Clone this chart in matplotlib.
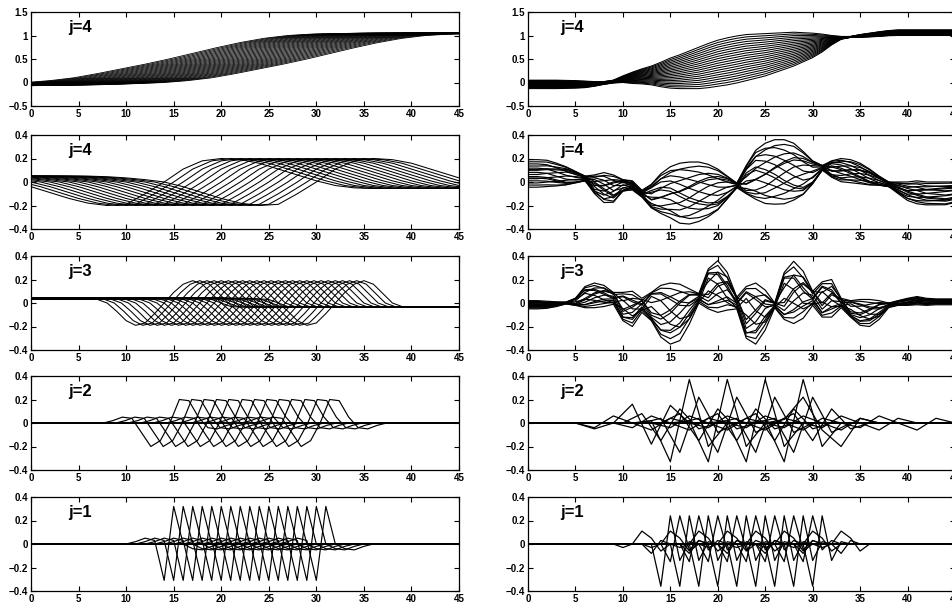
import numpy as np
import matplotlib
matplotlib.use("Agg")
import matplotlib.pyplot as plt

plt.rcParams['font.family'] = ['Liberation Sans', 'DejaVu Sans']

# ---- left column: shifted copies of one shape ----
# top: smooth steps (j=4), offsets relative to the half-way point
L1_OFF = np.arange(-35, 35.1, 2.5)
L1_STEP = [-0.07, -0.07, -0.07, -0.065, -0.06, -0.05, -0.04, -0.02, 0.0, 0.04,
           0.10, 0.19, 0.29, 0.39, 0.50, 0.62, 0.74, 0.85, 0.94, 1.00,
           1.03, 1.04, 1.05, 1.05, 1.05, 1.05, 1.05, 1.05, 1.05]
L1_CENTERS = [14.5, 15.0, 15.5, 16.0, 16.5, 17.0, 17.5, 18.0, 18.5, 19.0,
              19.5, 20.0, 20.5, 21.0, 21.5, 22.0, 22.5, 23.0, 23.5, 24.0,
              24.5, 25.0, 25.5, 26.0, 26.5, 27.0, 27.5, 28.0, 28.5, 29.0]

# j=4 wavelets, offsets relative to the zero crossing
L2_OFF = np.arange(-36, 37, 2)
L2_WAVE = [0.05, 0.05, 0.05, 0.05, 0.05, 0.05, 0.05,
           0.045, 0.035, 0.02, 0.0, -0.04, -0.09, -0.14, -0.18, -0.20, -0.19, -0.10,
           0.0,
           0.11, 0.18, 0.20, 0.19, 0.16, 0.11, 0.06, 0.01, -0.03, -0.05,
           -0.055, -0.055, -0.055, -0.055, -0.055, -0.055, -0.055, -0.055]
L2_ZERO = [14, 15, 16, 17, 18, 19, 20, 21, 22, 23, 24, 25, 26, 27, 28, 29, 30]

# j=3
L3_OFF = np.arange(-20, 21)
L3_WAVE = [0.035, 0.035, 0.04, 0.04, 0.04, 0.045, 0.045, 0.045, 0.045, 0.04, 0.04, 0.04, 0.035,
           0.03, 0.0, -0.07, -0.15, -0.19, -0.17, -0.09, 0.0, 0.09, 0.16, 0.19, 0.16, 0.08, 0.0,
           -0.03, -0.035, -0.035, -0.035, -0.035, -0.035, -0.035, -0.035, -0.035, -0.035,
           -0.035, -0.035, -0.035, -0.035]
L3_ZERO = [14.0, 14.75, 15.5, 16.25, 17.0, 17.75, 18.5, 19.25, 20.0, 20.75, 21.5,
           22.25, 23.0, 23.75, 24.5, 25.25, 26.0, 26.75, 27.5, 28.25, 29.0, 29.75,
           30.5, 31.25, 32.0]

# j=2
L4_OFF = np.arange(-8, 9)
L4_WAVE = [0.0, 0.0, 0.02, 0.05, 0.04, -0.08, -0.20, -0.15, 0.0, 0.20, 0.19, 0.05,
           -0.04, -0.05, -0.02, 0.0, 0.0]
L4_ZERO = [14.6, 15.9, 17.2, 18.5, 19.8, 21.2, 22.5, 23.8, 25.1, 26.4, 27.8, 29.1, 30.4]

# j=1
L5_OFF = np.arange(-5, 7)
L5_WAVE = [0.0, 0.0, 0.02, 0.05, 0.03, -0.31, 0.32, 0.0, -0.04, -0.05, -0.02, 0.0]
L5_TROUGH = [14, 15, 16, 17, 18, 19, 20, 21, 22, 23, 24, 25, 26, 27, 28, 29, 30]

# ---- right column: sampled on x = 0..45 ----
XR = np.arange(46)

R1_MID = [-0.04, -0.04, -0.04, -0.04, -0.04, -0.04, -0.04, -0.03, -0.01, 0.02,
          0.07, 0.10, 0.13, 0.15, 0.17, 0.20, 0.23, 0.27, 0.31, 0.36,
          0.41, 0.45, 0.49, 0.53, 0.56, 0.59, 0.63, 0.67, 0.71, 0.75,
          0.79, 0.84, 0.90, 0.95, 0.97, 0.99, 1.01, 1.03, 1.05, 1.06,
          1.06, 1.06, 1.06, 1.06, 1.06, 1.06]
R1_LENS = [0.09, 0.09, 0.09, 0.09, 0.085, 0.08, 0.07, 0.05, 0.03, 0.03,
           0.07, 0.12, 0.16, 0.20, 0.26, 0.32, 0.36, 0.40, 0.44, 0.47,
           0.49, 0.50, 0.50, 0.49, 0.47, 0.45, 0.42, 0.39, 0.36, 0.31,
           0.26, 0.19, 0.10, 0.03, 0.01, 0.03, 0.04, 0.05, 0.055, 0.06,
           0.06, 0.06, 0.06, 0.06, 0.06, 0.06]
R1_C = [-1.0, -0.9, -0.8, -0.7, -0.6, -0.5, -0.4, -0.3, -0.2, -0.1, 0.0,
        0.1, 0.2, 0.3, 0.4, 0.5, 0.6, 0.7, 0.8, 0.9, 1.0]

R2_MID = [0.07, 0.07, 0.07, 0.06, 0.05, 0.04, 0.03, -0.02, -0.05, -0.06,
          -0.03, -0.03, -0.10, -0.12, -0.10, -0.09, -0.10, -0.10, -0.09, -0.08,
          -0.07, -0.05, -0.03, 0.02, 0.06, 0.07, 0.08, 0.08, 0.08, 0.07,
          0.08, 0.12, 0.11, 0.10, 0.09, 0.07, 0.04, 0.01, -0.02, -0.05,
          -0.08, -0.09, -0.10, -0.10, -0.10, -0.09]
R2_AMP = [0.12, 0.12, 0.115, 0.10, 0.08, 0.05, 0.02, 0.08, 0.13, 0.12,
          0.05, 0.04, 0.03, 0.10, 0.17, 0.22, 0.26, 0.27, 0.26, 0.23,
          0.18, 0.10, 0.02, 0.12, 0.21, 0.26, 0.28, 0.28, 0.25, 0.19,
          0.10, 0.02, 0.07, 0.10, 0.10, 0.09, 0.07, 0.04, 0.02, 0.05,
          0.08, 0.10, 0.10, 0.10, 0.10, 0.09]
R2_TILT = [0.0, 0.0, 0.1, 0.3, 0.6, 0.8, 1.0, -0.6, -0.2, 0.3,
           0.8, 0.0, 0.0, -0.9, -0.7, -0.5, -0.3, -0.1, 0.1, 0.3,
           0.5, 0.7, 0.9, -0.9, -0.7, -0.45, -0.2, 0.05, 0.3, 0.55,
           0.8, 1.0, -0.8, -0.5, -0.2, 0.1, 0.4, 0.7, 0.9, -0.5,
           -0.3, -0.1, 0.1, 0.2, 0.3, 0.3]
R2_A = [1.0, 0.85, 0.7, 0.55, 0.4, 0.25, 0.1, -0.05, -0.2, -0.35, -0.5, -0.65, -0.8, -0.95, 0.3, -0.3]
R2_B = [0.0, 0.15, -0.3, 0.4, -0.5, 0.6, -0.7, 0.8, -0.75, 0.6, -0.45, 0.35, -0.2, 0.05, 0.7, -0.7]

R3_MID = [-0.015, -0.015, -0.015, -0.01, 0.0, 0.01, 0.05, 0.065, 0.06, 0.04,
          -0.03, -0.05, -0.02, -0.03, -0.07, -0.09, -0.08, -0.03, 0.04, 0.12,
          0.14, 0.10, 0.0, -0.08, -0.09, -0.06, -0.02, 0.06, 0.09, 0.07,
          0.04, 0.03, 0.04, 0.0, -0.05, -0.08, -0.085, -0.06, -0.02, 0.0,
          0.01, 0.02, 0.01, 0.01, 0.01, 0.01]
R3_AMP = [0.035, 0.035, 0.03, 0.02, 0.008, 0.03, 0.09, 0.105, 0.09, 0.05,
          0.12, 0.15, 0.06, 0.12, 0.22, 0.26, 0.24, 0.15, 0.04, 0.17,
          0.22, 0.16, 0.05, 0.22, 0.26, 0.17, 0.02, 0.20, 0.265, 0.20,
          0.06, 0.15, 0.16, 0.04, 0.07, 0.11, 0.115, 0.08, 0.02, 0.02,
          0.03, 0.035, 0.03, 0.025, 0.025, 0.025]
R3_TILT = [0.0, 0.0, 0.0, 0.0, 0.0, -0.8, -0.4, 0.0, 0.4, 0.8,
           -0.5, 0.0, 0.6, -0.8, -0.45, -0.1, 0.25, 0.6, 0.9, -0.6,
           -0.1, 0.4, 0.9, -0.6, -0.1, 0.4, 0.9, -0.6, -0.1, 0.4,
           0.9, -0.5, 0.1, 0.7, -0.7, -0.3, 0.1, 0.5, 0.9, -0.5,
           -0.3, 0.0, 0.2, 0.3, 0.3, 0.3]
R3_A = [1.0, 0.8, 0.6, 0.4, 0.2, 0.0, -0.2, -0.4, -0.6, -0.8, -1.0, 0.5, -0.5, 0.1]
R3_B = [0.0, -0.2, 0.4, -0.6, 0.8, -0.9, 0.7, -0.5, 0.3, 0.2, 0.0, -0.5, 0.5, 0.9]

# j=2 right: knots every 2 units
R4_OFF = [-4, -2, 0, 2, 4, 6]
R4_BIG = [0.0, 0.02, -0.33, 0.37, -0.20, 0.0]
R4_BIG_POS = [15, 19, 23, 27]
R4_MED = [0.0, 0.04, -0.25, 0.22, -0.08, 0.0]
R4_MED_POS = [16, 20, 24, 28]
R4_LOW = [0.0, 0.08, -0.15, 0.12, -0.05, 0.0]
R4_LOW_POS = [14, 18, 22, 26, 30]
R4_EDGE_OFF = [-6, -4, -2, 0, 2, 4, 6]
R4_EDGE = [0.0, -0.05, 0.0, 0.16, -0.18, 0.15, 0.0]
R4_EDGE_POS = [11]
R4_TAIL = [0.0, 0.03, 0.22, -0.06, -0.20, 0.04, 0.0]
R4_TAIL_POS = [31]
R4_SMALL_OFF = [-4, -2, 0, 2, 4, 6, 8]
R4_SMALL = [0.0, -0.04, 0.06, 0.0, -0.06, 0.04, 0.0]
R4_SMALL_POS = [9, 13, 17, 21, 25, 29, 33, 37]

# j=1 right: knots every unit
R5_A_OFF = [-2, -1, 0, 1, 2, 3, 4]
R5_A = [0.0, 0.0, -0.36, 0.24, -0.14, 0.02, 0.0]
R5_A_POS = [14, 16, 18, 20, 22, 24, 26, 28, 30]
R5_B_OFF = [-2, -1, 0, 1, 2, 3]
R5_B = [0.0, -0.15, 0.24, -0.05, 0.03, 0.0]
R5_B_POS = [16, 18, 20, 22, 24, 26, 28, 30]
R5_C_OFF = [-3, -2, -1, 0, 1, 2, 3]
R5_C = [0.0, -0.03, 0.0, 0.11, 0.05, -0.06, 0.0]
R5_C_POS = [12, 15, 18, 21, 24, 27, 30, 33]
R5_D_OFF = [-1, 0, 1, 2]
R5_D = [0.0, -0.08, 0.03, 0.0]
R5_D_POS = [13, 17, 21, 25, 29, 33]

X_LABELS = ['0', '5', '10', '15', '20', '25', '30', '35', '40', '45']
Y_TOP = [-0.5, 0, 0.5, 1, 1.5]
Y_TOP_LABELS = ['\u22120.5', '0', '0.5', '1', '1.5']
Y_LOW = [-0.4, -0.2, 0, 0.2, 0.4]
Y_LOW_LABELS = ['\u22120.4', '\u22120.2', '0', '0.2', '0.4']
PANEL_LABELS = ['j=4', 'j=4', 'j=3', 'j=2', 'j=1']


def family(ax, offs, vals, shifts, lw):
    offs = np.asarray(offs, float)
    vals = np.asarray(vals, float)
    for s in shifts:
        x = offs + s
        xs = np.r_[min(x[0], 0) - 1, x, max(x[-1], 45) + 1]
        ys = np.r_[vals[0], vals, vals[-1]]
        ax.plot(xs, ys, color='k', lw=lw)


def mixed(ax, mid, amp, tilt, A, B, lw):
    mid, amp, tilt = np.asarray(mid), np.asarray(amp), np.asarray(tilt)
    for a, b in zip(A, B):
        ax.plot(XR, mid + amp * (a + b * tilt), color='k', lw=lw)


def style(ax, row, lx):
    ax.set_xlim(0, 45)
    ax.set_xticks(range(0, 46, 5))
    ax.set_xticklabels(X_LABELS)
    if row == 0:
        ax.set_ylim(-0.5, 1.5)
        ax.set_yticks(Y_TOP)
        ax.set_yticklabels(Y_TOP_LABELS)
    else:
        ax.set_ylim(-0.4, 0.4)
        ax.set_yticks(Y_LOW)
        ax.set_yticklabels(Y_LOW_LABELS)
    ax.tick_params(direction='in', top=True, right=True, length=3.5, width=0.8,
                   labelsize=7, pad=2)
    for t in ax.get_xticklabels() + ax.get_yticklabels():
        t.set_fontweight('bold')
    for sp in ax.spines.values():
        sp.set_linewidth(0.9)
    ax.text(lx, 0.79, PANEL_LABELS[row], transform=ax.transAxes, fontsize=12,
            fontweight='bold', va='baseline')


W, H = 953, 616
fig = plt.figure(figsize=(W / 100, H / 100), dpi=100)
tops = [12, 135, 256, 376, 497]
ph = 94
left = []
right = []
for t in tops:
    left.append(fig.add_axes([31 / W, 1 - (t + ph) / H, 428 / W, ph / H]))
    right.append(fig.add_axes([528 / W, 1 - (t + ph) / H, 427 / W, ph / H]))

family(left[0], L1_OFF, L1_STEP, L1_CENTERS, 0.6)
family(left[1], L2_OFF, L2_WAVE, L2_ZERO, 0.75)
family(left[2], L3_OFF, L3_WAVE, L3_ZERO, 0.75)
family(left[3], L4_OFF, L4_WAVE, L4_ZERO, 0.85)
family(left[4], L5_OFF, L5_WAVE, L5_TROUGH, 0.85)

mixed(right[0], R1_MID, R1_LENS, np.zeros(46), R1_C, np.zeros(len(R1_C)), 0.75)
mixed(right[1], R2_MID, R2_AMP, R2_TILT, R2_A, R2_B, 0.85)
mixed(right[2], R3_MID, R3_AMP, R3_TILT, R3_A, R3_B, 0.85)

family(right[3], R4_OFF, R4_BIG, R4_BIG_POS, 0.9)
family(right[3], R4_OFF, R4_MED, R4_MED_POS, 0.9)
family(right[3], R4_OFF, R4_LOW, R4_LOW_POS, 0.9)
family(right[3], R4_EDGE_OFF, R4_EDGE, R4_EDGE_POS, 0.9)
family(right[3], R4_EDGE_OFF, R4_TAIL, R4_TAIL_POS, 0.9)
family(right[3], R4_SMALL_OFF, R4_SMALL, R4_SMALL_POS, 0.9)

family(right[4], R5_A_OFF, R5_A, R5_A_POS, 0.9)
family(right[4], R5_B_OFF, R5_B, R5_B_POS, 0.9)
family(right[4], R5_C_OFF, R5_C, R5_C_POS, 0.9)
family(right[4], R5_D_OFF, R5_D, R5_D_POS, 0.9)

for i in range(5):
    style(left[i], i, 0.086)
    style(right[i], i, 0.075)

fig.savefig('out.png', dpi=100)
